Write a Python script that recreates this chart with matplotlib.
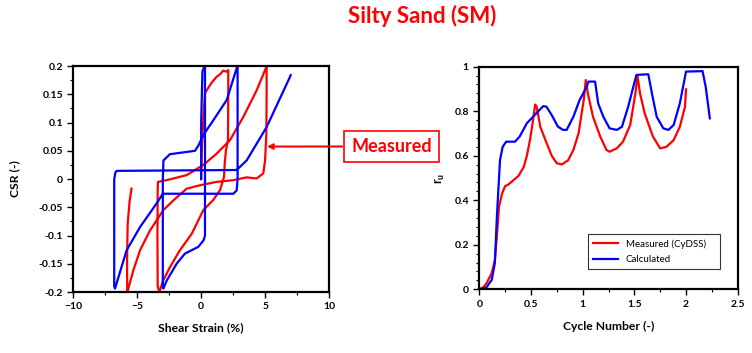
import numpy as np
import matplotlib.pyplot as plt
from matplotlib.ticker import MultipleLocator

plt.rcParams['font.family'] = ['Lato', 'DejaVu Sans']

# hysteresis loops, shear strain (%) vs CSR (-)
strain_meas = [0.0, 0.05, 0.2, 0.3, 0.43, 0.8, 1.21, 1.5, 1.73, 2.0, 2.12, 2.12, 2.1,
               1.94, 1.85, 1.79, 1.47, 0.95, 0.17, -0.09, -0.74, -1.66, -2.44, -2.96,
               -3.27, -3.4, -3.42, -3.4, -3.38, -2.7, -1.13, 0.17, 1.21, 2.26, 3.3,
               4.34, 5.0, 5.12, 5.12, 5.1, 5.0, 4.86, 4.34, 3.56, 2.52, 1.21, -0.09,
               -1.13, -2.18, -2.96, -4.0, -4.78, -5.31, -5.7, -5.78, -5.8, -5.75,
               -5.6, -5.45]
csr_meas = [0.0, 0.05, 0.12, 0.152, 0.157, 0.17, 0.181, 0.186, 0.192, 0.19, 0.193,
            0.15, 0.069, 0.051, 0.03, 0.004, -0.02, -0.037, -0.055, -0.067, -0.097,
            -0.126, -0.156, -0.179, -0.2, -0.19, -0.1, -0.02, -0.005, -0.002, 0.007,
            0.025, 0.045, 0.069, 0.11, 0.157, 0.193, 0.199, 0.15, 0.08, 0.033, 0.01,
            0.001, 0.003, -0.002, -0.005, -0.011, -0.017, -0.038, -0.055, -0.091,
            -0.126, -0.162, -0.194, -0.2, -0.15, -0.08, -0.04, -0.017]

strain_calc = [0.0, 0.0, 0.1, 0.25, 0.3, 0.3, 0.3, 0.2, -0.22, -1.27, -1.92, -2.7,
               -2.96, -3.0, -3.0, -2.95, -2.44, -0.48, -0.2, 0.17, 0.95, 2.0, 2.83,
               2.85, 2.85, 2.78, 2.52, -3.0, -3.48, -4.78, -5.83, -6.74, -6.8, -6.8,
               -6.7, -6.6, 2.78, 3.56, 5.12, 6.95, 7.0]
csr_calc = [0.0, 0.1, 0.19, 0.2, 0.2, 0.0, -0.1, -0.108, -0.12, -0.132, -0.15, -0.18,
            -0.194, -0.19, 0.0, 0.033, 0.044, 0.05, 0.06, 0.078, 0.104, 0.14, 0.2,
            0.2, 0.0, -0.02, -0.026, -0.026, -0.043, -0.085, -0.126, -0.194, -0.19,
            0.0, 0.012, 0.0145, 0.016, 0.033, 0.092, 0.181, 0.184]

# pore pressure ratio vs cycle number
cyc_meas = [0.0, 0.04, 0.07, 0.12, 0.15, 0.17, 0.19, 0.22, 0.25, 0.28, 0.33, 0.38,
            0.43, 0.46, 0.49, 0.52, 0.54, 0.555, 0.59, 0.64, 0.70, 0.75, 0.80, 0.86,
            0.91, 0.96, 1.01, 1.03, 1.05, 1.10, 1.17, 1.23, 1.26, 1.33, 1.39, 1.46,
            1.51, 1.53, 1.555, 1.60, 1.68, 1.75, 1.81, 1.88, 1.94, 1.99, 2.0]
ru_meas = [0.0, 0.01, 0.027, 0.072, 0.13, 0.24, 0.37, 0.43, 0.464, 0.47, 0.49, 0.51,
           0.55, 0.60, 0.67, 0.76, 0.83, 0.82, 0.73, 0.67, 0.60, 0.566, 0.561, 0.58,
           0.626, 0.70, 0.85, 0.94, 0.88, 0.775, 0.686, 0.626, 0.618, 0.633, 0.663,
           0.738, 0.88, 0.958, 0.88, 0.79, 0.686, 0.633, 0.64, 0.67, 0.73, 0.82, 0.898]

cyc_calc = [0.0, 0.04, 0.07, 0.12, 0.15, 0.17, 0.2, 0.226, 0.26, 0.345, 0.39, 0.46,
            0.52, 0.57, 0.62, 0.65, 0.70, 0.76, 0.81, 0.845, 0.91, 0.97, 1.04, 1.055,
            1.12, 1.15, 1.2, 1.26, 1.33, 1.38, 1.44, 1.49, 1.52, 1.635, 1.67, 1.716,
            1.78, 1.83, 1.88, 1.94, 2.0, 2.16, 2.19, 2.22, 2.23]
ru_calc = [0.0, 0.003, 0.009, 0.042, 0.117, 0.326, 0.58, 0.64, 0.663, 0.663, 0.686,
           0.746, 0.775, 0.80, 0.823, 0.82, 0.783, 0.731, 0.716, 0.716, 0.775, 0.85,
           0.91, 0.933, 0.933, 0.835, 0.775, 0.723, 0.716, 0.73, 0.82, 0.91, 0.963,
           0.966, 0.88, 0.775, 0.723, 0.716, 0.738, 0.835, 0.978, 0.98, 0.91, 0.805,
           0.768]

red = '#ff0000'
blue = '#0000ff'


def style_axes(ax):
    for s in ax.spines.values():
        s.set_linewidth(1.6)
    ax.tick_params(which='major', direction='out', length=4, width=1, labelsize=7.5,
                   top=False, right=False)
    ax.tick_params(which='minor', direction='out', length=2.5, width=0.8,
                   top=False, right=False)
    for lab in ax.get_xticklabels() + ax.get_yticklabels():
        lab.set_fontweight('bold')


def main():
    fig = plt.figure(figsize=(7.52, 3.53), dpi=100)

    ax1 = fig.add_axes([0.0975, 0.1728, 0.34, 0.640])
    ax1.plot(strain_meas, csr_meas, color=red, lw=1.6)
    ax1.plot(strain_calc, csr_calc, color=blue, lw=1.6)
    ax1.set_xlim(-10, 10)
    ax1.set_ylim(-0.2, 0.2)
    ax1.xaxis.set_major_locator(MultipleLocator(5))
    ax1.xaxis.set_minor_locator(MultipleLocator(2.5))
    ax1.yaxis.set_minor_locator(MultipleLocator(0.025))
    ax1.set_yticks(np.arange(-0.2, 0.201, 0.05))
    ax1.set_yticklabels(['-0.2', '-0.15', '-0.1', '-0.05', '0', '0.05', '0.1', '0.15', '0.2'])
    ax1.set_xlabel('Shear Strain (%)', fontsize=8.7, fontweight='bold', labelpad=8)
    ax1.set_ylabel('CSR (-)', fontsize=8.7, fontweight='bold', labelpad=13)
    style_axes(ax1)

    ax2 = fig.add_axes([0.6374, 0.1805, 0.3436, 0.6306])
    ax2.plot(cyc_meas, ru_meas, color=red, lw=1.6, label='Measured (CyDSS)')
    ax2.plot(cyc_calc, ru_calc, color=blue, lw=1.6, label='Calculated')
    ax2.set_xlim(0, 2.5)
    ax2.set_ylim(0, 1)
    ax2.xaxis.set_minor_locator(MultipleLocator(0.25))
    ax2.yaxis.set_minor_locator(MultipleLocator(0.04))
    ax2.set_xticks([0, 0.5, 1, 1.5, 2, 2.5])
    ax2.set_xticklabels(['0', '0.5', '1', '1.5', '2', '2.5'])
    ax2.set_yticks([0, 0.2, 0.4, 0.6, 0.8, 1])
    ax2.set_yticklabels(['0', '0.2', '0.4', '0.6', '0.8', '1'])
    ax2.set_xlabel('Cycle Number (-)', fontsize=8.7, fontweight='bold', labelpad=9)
    ax2.set_ylabel(r'r$_\mathregular{u}$', fontsize=9, fontweight='bold', labelpad=5)
    style_axes(ax2)
    leg = ax2.legend(loc='lower left', bbox_to_anchor=(0.42, 0.09, 0.51, 0.163),
                     mode='expand', fontsize=7, frameon=True, fancybox=False,
                     handlelength=2.6, borderpad=0.5, labelspacing=0.7,
                     borderaxespad=0)
    leg.get_frame().set_edgecolor('black')
    leg.get_frame().set_linewidth(0.8)

    fig.text(0.562, 0.955, 'Silty Sand (SM)', color=red, fontsize=16,
             fontweight='bold', ha='center', va='center')

    # "Measured" callout with arrow pointing to the red loop
    fig.text(0.521, 0.585, 'Measured', color=red, fontsize=13, fontweight='bold',
             ha='center', va='center',
             bbox=dict(boxstyle='square,pad=0.4', fc='white', ec=red, lw=1.2))
    ax1.annotate('', xy=(5.15, 0.0575), xycoords='data',
                 xytext=(0.455, 0.585), textcoords='figure fraction',
                 arrowprops=dict(arrowstyle='-|>', color=red, lw=1.5,
                                 mutation_scale=8, shrinkA=0, shrinkB=0))

    fig.savefig('out.png', dpi=100)


if __name__ == "__main__":
    main()
